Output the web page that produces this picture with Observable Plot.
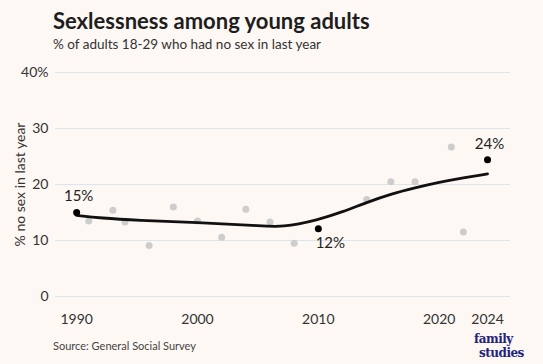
<!DOCTYPE html>
<html>
<head>
<meta charset="utf-8">
<script src="https://cdn.jsdelivr.net/npm/d3@7"></script>
<script src="https://cdn.jsdelivr.net/npm/@observablehq/plot@0.6"></script>
<style>
  html, body { margin: 0; padding: 0; }
  body { width: 543px; height: 364px; background: #fdf8f3; position: relative; overflow: hidden; font-family: Lato, sans-serif; }
  #title { position: absolute; left: 53px; top: 7px; font-size: 22px; font-weight: 700; color: #1e1e1e; white-space: nowrap; }
  #subtitle { position: absolute; left: 53px; top: 36px; font-size: 13.5px; color: #333; white-space: nowrap; }
  #chart { position: absolute; left: 0; top: 60px; }
  #source { position: absolute; left: 53px; top: 339px; font-size: 11px; color: #444; white-space: nowrap; }
  .logo { position: absolute; font-family: "DejaVu Serif", serif; font-weight: 700; color: #23237a; font-size: 12px; line-height: 14px; letter-spacing: -0.5px; white-space: nowrap; }
</style>
</head>
<body>
<div id="title">Sexlessness among young adults</div>
<div id="subtitle">% of adults 18-29 who had no sex in last year</div>
<div id="chart"></div>
<div id="source">Source: General Social Survey</div>
<div class="logo" style="left:474px; top:332px;">family</div>
<div class="logo" style="left:479px; top:346px;">studies</div>
<script>
// Survey years and observed shares (%)
const surveyYears = [1991, 1993, 1994, 1996, 1998, 2000, 2002, 2004, 2006, 2008, 2014, 2016, 2018, 2021, 2022];
const surveyValues = [13.5, 15.4, 13.3, 9.1, 16.0, 13.5, 10.6, 15.6, 13.3, 9.5, 17.3, 20.5, 20.5, 26.7, 11.5];

// Highlighted years
const highlightYears = [1990, 2010, 2024];
const highlightValues = [15.0, 12.1, 24.4];
const highlightLabels = ["15%", "12%", "24%"];

// Smoothed trend
const trendYears = [1990, 1992, 1995, 2000, 2005, 2007, 2010, 2012, 2014, 2016, 2018, 2020, 2022, 2024];
const trendValues = [14.5, 14.0, 13.6, 13.2, 12.7, 12.3, 13.7, 15.1, 16.8, 18.3, 19.4, 20.4, 21.2, 21.9];

const yTicks = [0, 10, 20, 30, 40];
const xTicks = [1990, 2000, 2010, 2020, 2024];

const dots = surveyYears.map((y, i) => ({year: y, value: surveyValues[i]}));
const highs = highlightYears.map((y, i) => ({year: y, value: highlightValues[i], label: highlightLabels[i]}));
const trend = trendYears.map((y, i) => ({year: y, value: trendValues[i]}));

const chart = Plot.plot({
  width: 543,
  height: 274,
  marginLeft: 55,
  marginRight: 33,
  marginTop: 12,
  marginBottom: 38,
  style: { background: "transparent", fontFamily: "Lato, sans-serif", fontSize: "14px", color: "#333" },
  x: { domain: [1988.25, 2025.9], ticks: xTicks, tickFormat: d => String(d), tickSize: 0, tickPadding: 18, label: null },
  y: { domain: [0, 40], ticks: yTicks, tickFormat: d => d === 40 ? "40%" : String(d), tickSize: 0, tickPadding: 7,
       label: "% no sex in last year", labelAnchor: "center", labelOffset: 40, labelArrow: "none" },
  marks: [
    Plot.ruleY(yTicks, { stroke: "#dce4ee", strokeWidth: 1 }),
    Plot.dot(dots, { x: "year", y: "value", r: 3.5, fill: "#cdcdcd", stroke: "none" }),
    Plot.line(trend, { x: "year", y: "value", stroke: "#111", strokeWidth: 2.8, curve: "basis" }),
    Plot.dot(highs, { x: "year", y: "value", r: 3.5, fill: "#000", stroke: "none" }),
    Plot.text(highs.filter(d => d.label !== "12%"), { x: "year", y: "value", text: "label", dy: -16, dx: 2, fontSize: 15, fill: "#222" }),
    Plot.text(highs.filter(d => d.label === "12%"), { x: "year", y: "value", text: "label", dy: 14, dx: 12, fontSize: 15, fill: "#222" })
  ]
});
document.getElementById("chart").appendChild(chart);
</script>
</body>
</html>
